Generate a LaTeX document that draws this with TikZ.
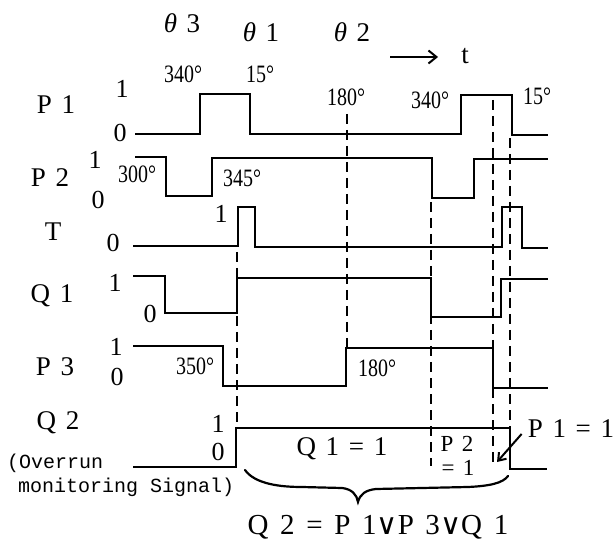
\documentclass[tikz,border=0pt]{standalone}
\usepackage{fontspec}
\usepackage{graphicx}
\setmainfont{Liberation Serif}
\newfontfamily\fwfont[LetterSpace=36]{Liberation Serif}
\newfontfamily\fwwide[LetterSpace=40]{Liberation Serif}
\newfontfamily\monofnt{Liberation Mono}
\newfontfamily\dvfnt{DejaVu Sans}
\usetikzlibrary{arrows.meta}
\newcommand{\dg}[1]{\scalebox{0.8}[1]{#1\textdegree}}
\begin{document}
\begin{tikzpicture}[x=1pt,y=-1pt,
  wave/.style={line width=2.6pt, line join=miter},
  guide/.style={line width=2.2pt, dash pattern=on 10pt off 6pt},
  lab/.style={inner sep=0pt, font=\fontsize{27}{30}\selectfont\fwfont},
  lvl/.style={inner sep=0pt, font=\fontsize{26}{28}\selectfont},
  ang/.style={inner sep=0pt, font=\fontsize{25}{28}\selectfont},
  small/.style={inner sep=0pt, font=\fontsize{23}{25}\selectfont\fwfont},
  mono/.style={inner sep=0pt, anchor=west, font=\fontsize{20}{22}\selectfont\monofnt}]
\useasboundingbox (0,0) rectangle (616,545);

% header
\node[lab] (th3) at (182,23) {\textit{θ}3};
\node[lab] (th1) at (261,32) {\textit{θ}1};
\node[lab] (th2) at (352,32) {\textit{θ}2};
\node[lab] (tt) at (465,56) {t};
\coordinate (tarrow) at (390,57);
\draw[line width=2pt, -{Straight Barb[length=8pt,width=13pt]}] (tarrow) -- ([xshift=-23pt]tt.west |- tarrow);

% angle labels
\node[ang] (a340a) at (183,74) {\dg{340}};
\node[ang] (a15a) at (260,74) {\dg{15}};
\node[ang] (a180a) at (346,97) {\dg{180}};
\node[ang] (a340b) at (430,100) {\dg{340}};
\node[ang] (a15b) at (537,96) {\dg{15}};
\node[ang] (a300) at (137,174) {\dg{300}};
\node[ang] (a345) at (242,178) {\dg{345}};
\node[ang] (a350) at (195,366) {\dg{350}};
\node[ang] (a180b) at (377,368) {\dg{180}};

% signal names
\node[lab] (nP1) at (56,105) {P1};
\node[lab] (nP2) at (50,178) {P2};
\node[lab] (nT) at (53,232) {T};
\node[lab] (nQ1) at (52,296) {Q1};
\node[lab] (nP3) at (55,367) {P3};
\node[lab] (nQ2) at (58,423) {Q2};
\node[mono] (ov1) at (7,463) {(Overrun};
\node[mono] (ov2) at (18,487) {monitoring Signal)};

% levels
\node[lvl] (p1h) at (122,89) {1};
\node[lvl] (p1l) at (120,133) {0};
\node[lvl] (p2h) at (95,160) {1};
\node[lvl] (p2l) at (98,200) {0};
\node[lvl] (tl) at (113,243) {0};
\node[lvl] (th) at (221,214) {1};
\node[lvl] (q1h) at (115,283) {1};
\node[lvl] (q1l) at (150,314) {0};
\node[lvl] (p3h) at (116,347) {1};
\node[lvl] (p3l) at (117,377) {0};
\node[lvl] (q2h) at (218,424) {1};
\node[lvl] (q2l) at (218,452) {0};

% waveforms
\draw[wave] (135,134) -- (200,134) -- (200,94) -- (250,94) -- (250,134) -- (461,134) -- (461,95) -- (512,95) -- (512,135) -- (548,135);
\draw[wave] (135,157) -- (166,157) -- (166,196) -- (212,196) -- (212,158) -- (432,158) -- (432,198) -- (474,198) -- (474,159) -- (548,159);
\draw[wave] (133,246) -- (238,246) -- (238,207) -- (255,207) -- (255,247) -- (502,247) -- (502,207) -- (522,207) -- (522,248) -- (548,248);
\draw[wave] (133,276) -- (165,276) -- (165,313) -- (237,313) -- (237,278) -- (431,278) -- (431,317) -- (501,317) -- (501,279) -- (548,279);
\draw[wave] (133,346) -- (223,346) -- (223,386) -- (346,386) -- (346,348) -- (493,348) -- (493,388) -- (548,388);
\draw[wave] (133,467) -- (236,467) -- (236,428) -- (510,428) -- (510,469) -- (547,469);

% guides
\draw[guide] (237,252) -- (237,428);
\draw[guide] (347,114) -- (347,347);
\draw[guide] (431,202) -- (431,466);
\draw[guide] (493,100) -- (493,466);
\draw[guide] (510,138) -- (510,466);

% Q2 annotations
\node[lab] (q1eq) at (342,449) {Q1=1};
\node[small] (p2a) at (457,444) {P2};
\node[small] (p2b) at (458,468) {=1};
\node[lab] (p1eq) at (571,429) {P1=1};
\coordinate (ckend) at (497,462);
\draw[line width=2pt, -{Straight Barb[length=7pt,width=10pt]}] ([shift={(-6,5)}]p1eq.west) -- (ckend);

% brace
\draw[line width=2.2pt, line cap=round] (245,470) .. controls (255,484) and (280,487) .. (302,487) -- (342,488) .. controls (352,489) and (357,495) .. (358,502) .. controls (360,494) and (366,490) .. (376,489) -- (468,487) .. controls (490,486) and (503,483) .. (508,476);

\node[inner sep=0pt, font=\fontsize{29}{32}\selectfont\fwwide] (formula) at (378,527) {Q2=P1{\dvfnt ∨}P3{\dvfnt ∨}Q1};
\end{tikzpicture}
\end{document}
